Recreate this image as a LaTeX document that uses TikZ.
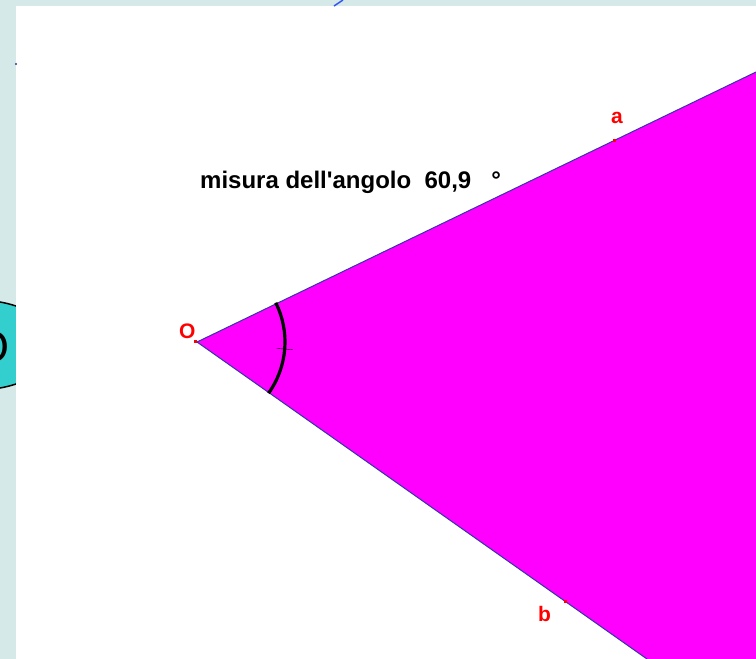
\documentclass[tikz,border=0pt]{standalone}
\usepackage{fontspec}
\setmainfont{Liberation Sans}
\usetikzlibrary{shapes.geometric}
\definecolor{panelbg}{RGB}{214,233,233}
\definecolor{ovalcyan}{RGB}{51,206,206}
\definecolor{rayblue}{RGB}{51,51,170}
\definecolor{topblue}{RGB}{51,85,238}
\definecolor{sector}{RGB}{255,0,255}

\begin{document}
\begin{tikzpicture}[x=1pt, y=-1pt,
      ray/.style={draw=rayblue, line width=1pt},
      anglearc/.style={draw=black, line width=3.2pt},
      ptlabel/.style={text=red, font=\bfseries\fontsize{21}{21}\selectfont, inner sep=0pt},
      ptmark/.style={fill=red, minimum size=3pt, inner sep=0pt},
      measure/.style={font=\bfseries\fontsize{24}{24}\selectfont, inner sep=0pt}]
    \useasboundingbox (0,0) rectangle (756,659);
    \fill[panelbg] (0,0) rectangle (756,659);
    % oval peeking in from the left
    \node[ellipse, draw, line width=1.5pt, fill=ovalcyan, minimum width=156, minimum height=90] (oval) at (-23,345) {};
    \node[anchor=base, inner sep=0pt, font=\fontsize{45}{45}\selectfont] (ovaltext) at (-7.5,362) {O};
    % drawing panel
    \fill[white] (16,6) rectangle (756,659);
    \draw[topblue, line width=1.5pt] (343,0) -- (334,6);
    \fill[rayblue] (16,64) circle (1.2);
    % angle
    \coordinate (O) at (197,342);
    \coordinate (aEnd) at (756,72);
    \coordinate (bEnd) at (647,659);
    \fill[sector] (O) -- (aEnd) -- (756,659) -- (bEnd) -- cycle;
    \draw[ray] (O) -- (aEnd);
    \draw[ray] (O) -- (bEnd);
    \draw[anglearc] (O) ++(-26.5:88) arc[start angle=-26.5, end angle=35.6, radius=88];
    \draw[thin] (O) ++(4.6:80) -- ++(4.6:16);
    % points and labels
    \node[ptmark] (markO) at (195,341) {};
    \node[ptmark] (markA) at (614,140) {};
    \node[ptmark] (markB) at (565,601) {};
    \node[ptlabel, anchor=base west] (labO) at (179,338) {O};
    \node[ptlabel, anchor=base west] (labA) at (611,123) {a};
    \node[ptlabel, anchor=base west] (labB) at (538,621) {b};
    \node[measure, anchor=base west] (misura) at (200,188) {misura dell\textquotesingle angolo~~60,9~~~°};
  \end{tikzpicture}
\end{document}
